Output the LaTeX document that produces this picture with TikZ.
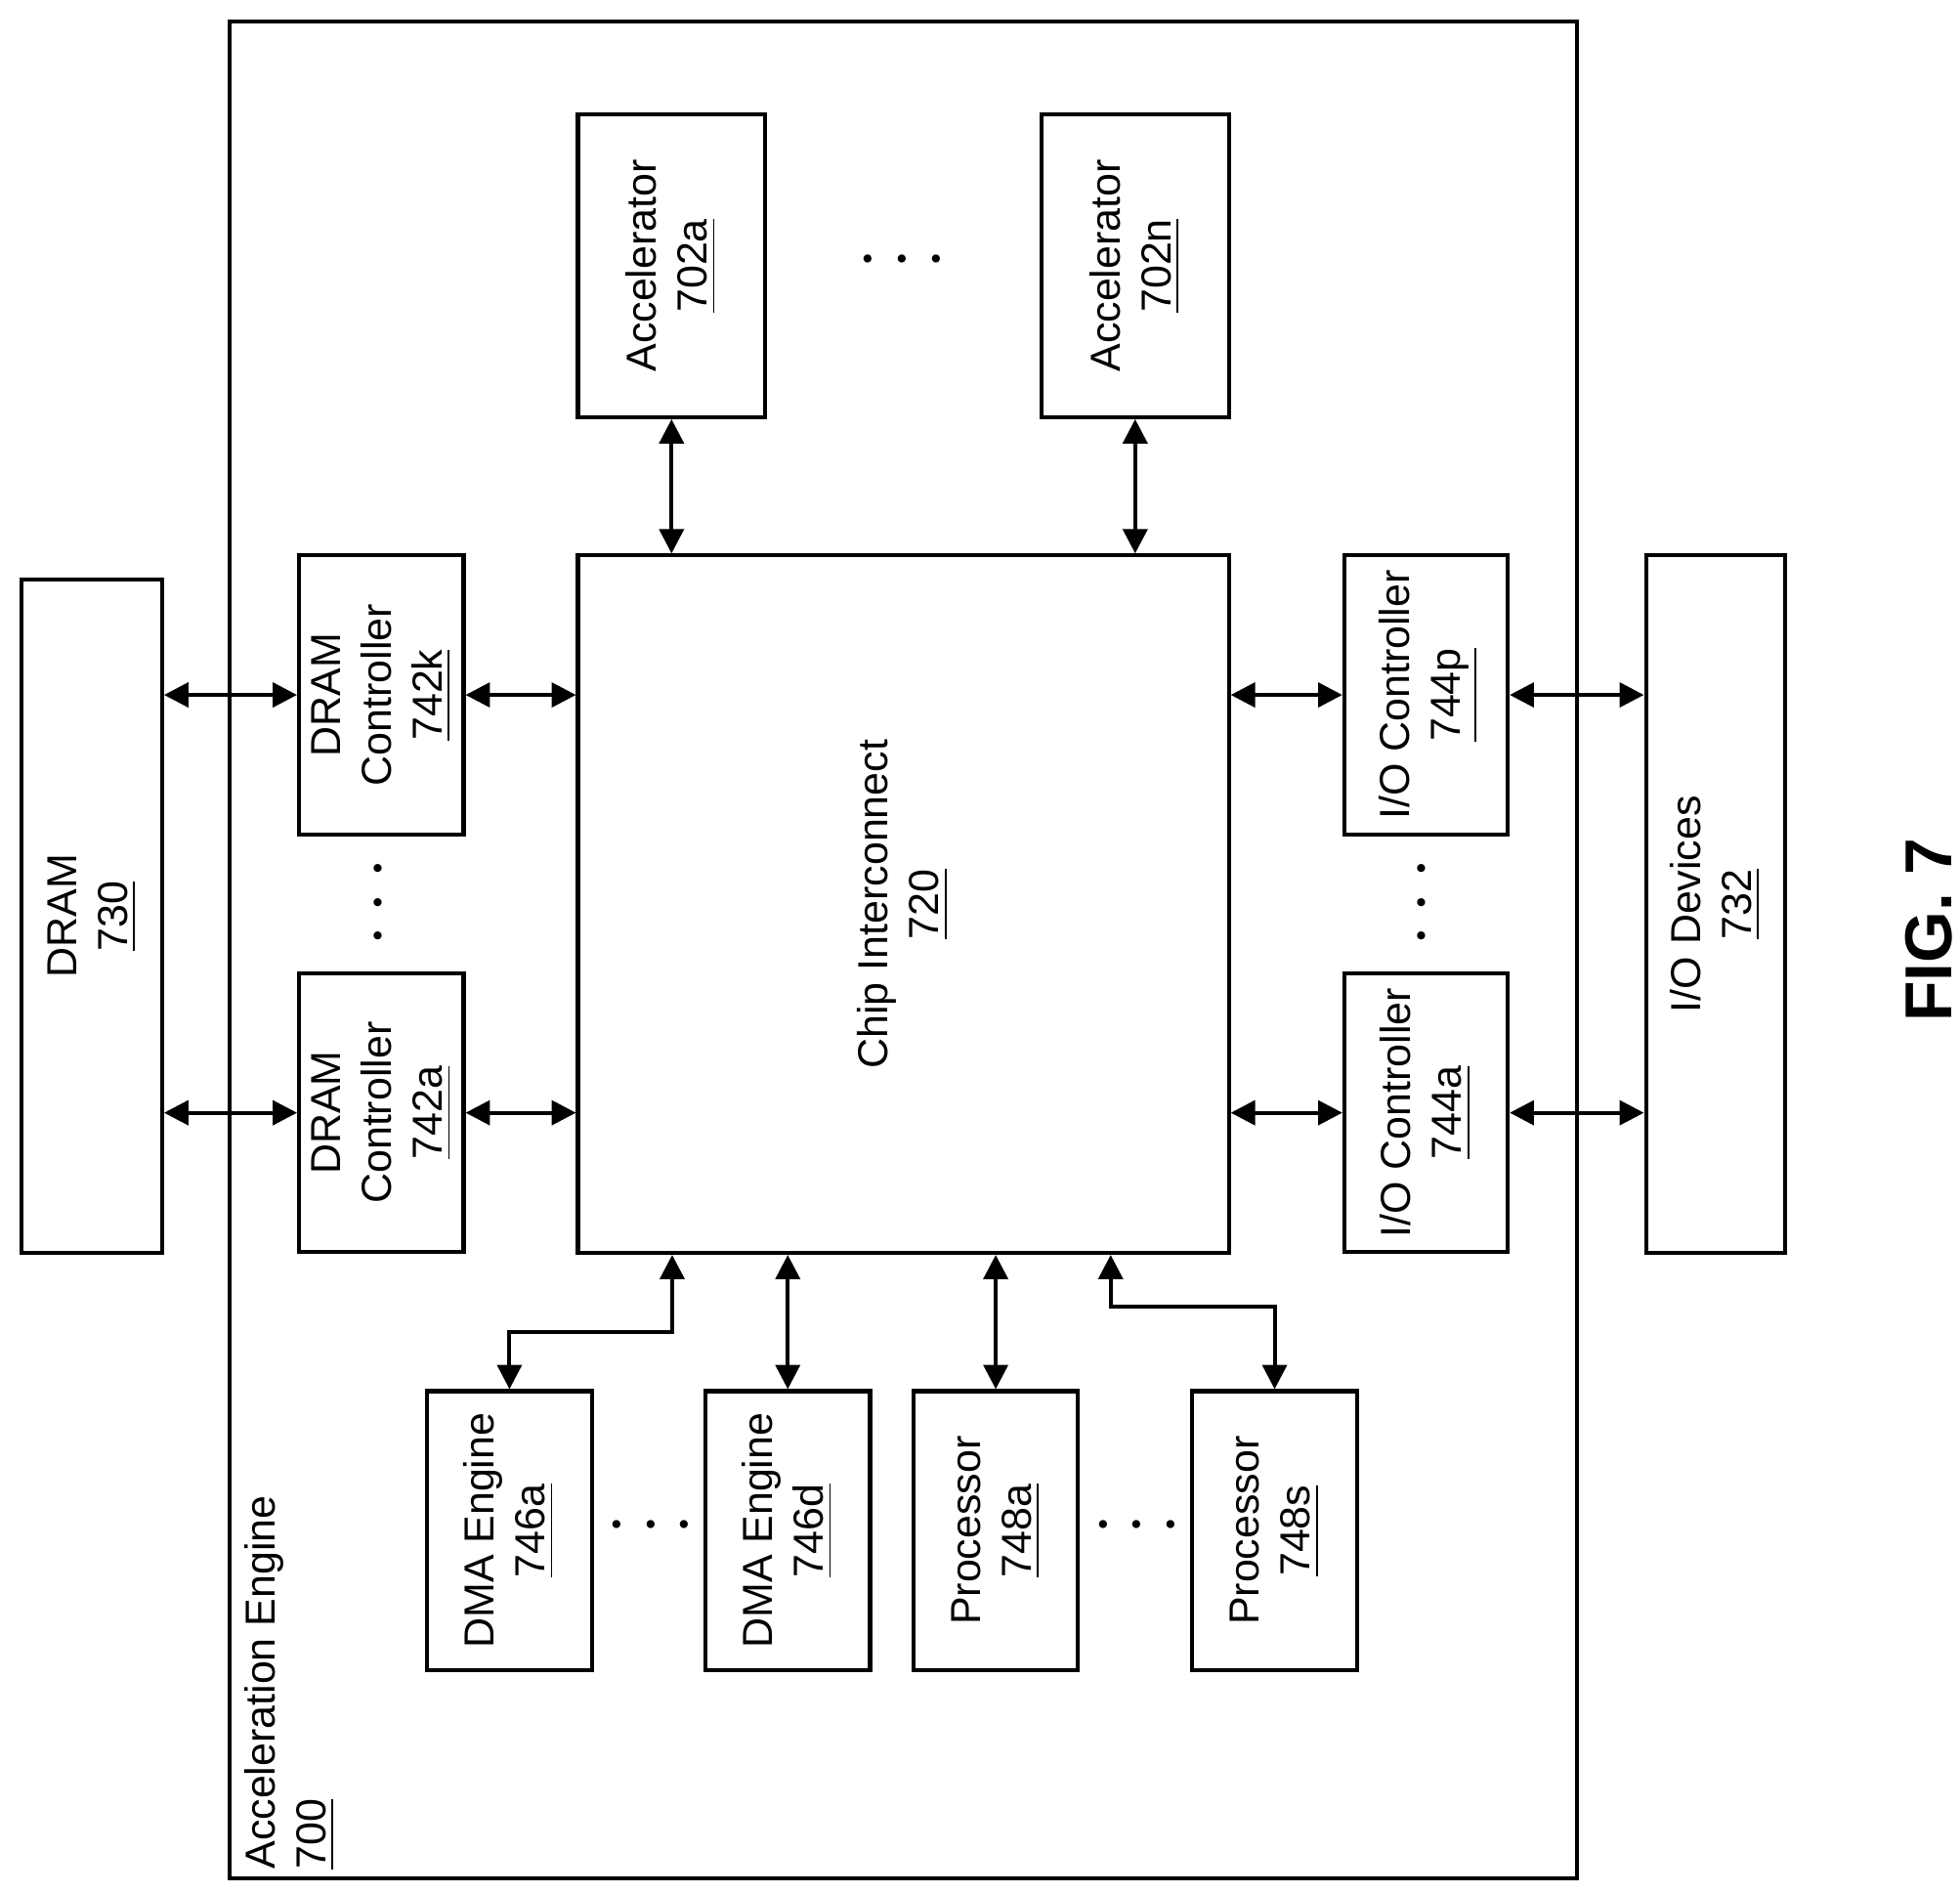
\documentclass[tikz,border=0pt]{standalone}
\usepackage{fontspec}
\setmainfont{Liberation Sans}
\usetikzlibrary{arrows.meta}
\newcommand{\vlab}[2]{\rotatebox{90}{\begin{tabular}{@{}c@{}}#1\\\underline{#2}\end{tabular}}}
\begin{document}
\begin{tikzpicture}
[x=0.01cm, y=0.01cm, font=\fontsize{9.5}{11.5}\selectfont,
 box/.style={draw, line width=0.9pt, inner sep=0pt},
 size/.style 2 args={minimum width=#1*0.01cm, minimum height=#2*0.01cm},
 arr/.style={{Triangle[length=5.5pt,width=5.5pt]}-{Triangle[length=5.5pt,width=5.5pt]}, line width=0.9pt},
 dots/.style={font=\fontsize{16}{16}\selectfont}]
\useasboundingbox (0,0) rectangle (1560,1506);
% outer engine
\node [box, size={1072}{1478}] (engine) at (719,750) {};
\node [anchor=south west, inner sep=0pt] (englab) at (190,18) {\rotatebox{90}{\begin{tabular}{@{}l@{}}Acceleration Engine\\\underline{700}\end{tabular}}};
% boxes
\node [box, size={149}{241}] (acca) at (534.5,1294.5) {\vlab{Accelerator}{702a}};
\node [box, size={149}{241}] (accn) at (903.5,1294.5) {\vlab{Accelerator}{702n}};
\node [dots] (accdots) at (718,1298) {$\cdots$};
\node [box, size={518}{555}] (chip) at (719,786.5) {\vlab{Chip Interconnect}{720}};
\node [box, size={112}{536}] (dram) at (73,777) {\vlab{DRAM}{730}};
\node [box, size={131}{222}] (dck) at (303.5,953) {\vlab{DRAM\\Controller}{742k}};
\node [box, size={131}{222}] (dca) at (303.5,620.5) {\vlab{DRAM\\Controller}{742a}};
\node [dots] (dcdots) at (303,788) {\rotatebox{90}{$\cdots$}};
\node [box, size={130}{222}] (iop) at (1135,953) {\vlab{I/O Controller}{744p}};
\node [box, size={130}{222}] (ioa) at (1135,620.5) {\vlab{I/O Controller}{744a}};
\node [dots] (iodots) at (1133,788) {\rotatebox{90}{$\cdots$}};
\node [box, size={111}{555}] (iodev) at (1365.5,786.5) {\vlab{I/O Devices}{732}};
\node [box, size={131}{222}] (dmaa) at (405.5,288) {\vlab{DMA Engine}{746a}};
\node [box, size={131}{222}] (dmad) at (627,288) {\vlab{DMA Engine}{746d}};
\node [dots] (dmadots) at (518,291) {$\cdots$};
\node [box, size={131}{222}] (proca) at (792.5,288) {\vlab{Processor}{748a}};
\node [box, size={131}{222}] (procs) at (1014.5,288) {\vlab{Processor}{748s}};
\node [dots] (procdots) at (905,291) {$\cdots$};
\node [font=\fontsize{15}{15}\selectfont\bfseries] (fig) at (1535,766) {\rotatebox{90}{FIG. 7}};
% connectors
\draw [arr] (acca.south) -- (acca.south |- chip.north);
\draw [arr] (accn.south) -- (accn.south |- chip.north);
\draw [arr] (dram.east |- dck) -- (dck.west);
\draw [arr] (dram.east |- dca) -- (dca.west);
\draw [arr] (dck.east) -- (chip.west |- dck);
\draw [arr] (dca.east) -- (chip.west |- dca);
\draw [arr] (chip.east |- iop) -- (iop.west);
\draw [arr] (chip.east |- ioa) -- (ioa.west);
\draw [arr] (iop.east) -- (iodev.west |- iop);
\draw [arr] (ioa.east) -- (iodev.west |- ioa);
\coordinate (ja) at (535,446);
\coordinate (js) at (884,466);
\draw [arr] (dmaa.north) |- (ja) -- (ja |- chip.south);
\draw [arr] (dmad.north) -- (dmad.north |- chip.south);
\draw [arr] (proca.north) -- (proca.north |- chip.south);
\draw [arr] (procs.north) |- (js) -- (js |- chip.south);
\end{tikzpicture}
\end{document}
